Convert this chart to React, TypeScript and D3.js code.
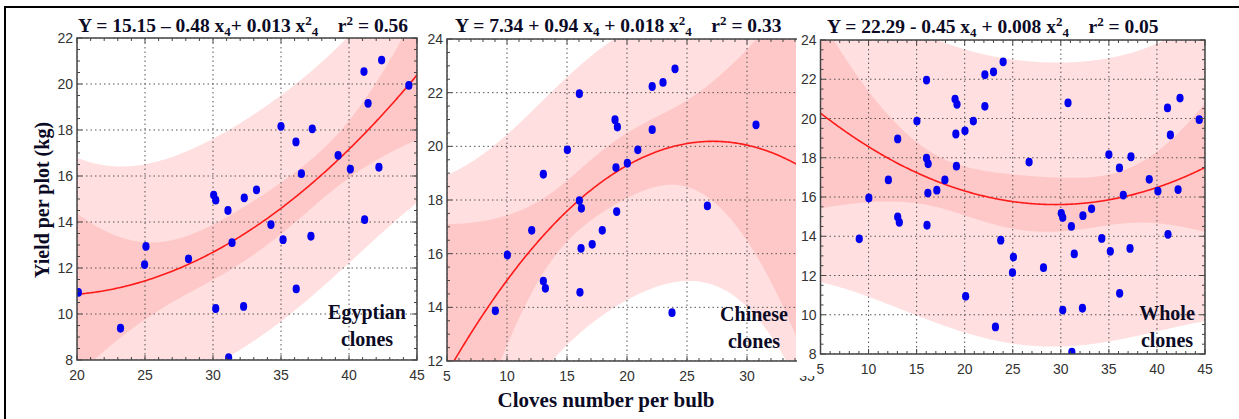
import { useEffect, useRef } from 'react';
import * as d3 from 'd3';

// Egyptian clones — cloves number per bulb vs yield per plot (kg)
const egyptX = [20.1, 23.2, 24.97, 25.07, 28.2, 30.05, 30.2, 30.2, 31.1, 31.15, 31.4, 32.25, 32.3, 33.2, 34.26,
  35.0, 35.15, 36.1, 36.12, 36.5, 37.2, 37.3, 39.2, 40.1, 41.1, 41.15, 41.4, 42.2, 42.4, 44.4];
const egyptY = [10.94, 9.38, 12.15, 12.94, 12.4, 15.17, 14.95, 10.24, 14.5, 8.1, 13.1, 10.33, 15.05, 15.4, 13.89,
  18.16, 13.23, 17.48, 11.09, 16.1, 13.38, 18.05, 16.9, 16.3, 20.54, 14.1, 19.16, 16.38, 21.04, 19.94];

// Chinese clones
const chinaX = [9.03, 10.03, 12.06, 13.03, 13.03, 13.2, 15.03, 16.03, 16.03, 16.2, 16.17, 16.08, 17.1, 17.94,
  19.0, 19.2, 19.08, 19.14, 20.03, 20.9, 22.1, 22.1, 23.0, 24.0, 23.75, 26.7, 30.75];
const chinaY = [13.87, 15.95, 16.87, 18.96, 14.98, 14.71, 19.87, 21.96, 17.98, 17.69, 16.2, 14.56, 16.35, 16.87,
  20.99, 20.72, 19.21, 17.57, 19.37, 19.87, 20.62, 22.23, 22.38, 22.89, 13.8, 17.78, 20.8];

// whole = both groups together
const wholeX = [...egyptX, ...chinaX];
const wholeY = [...egyptY, ...chinaY];

const xDomains = [[20, 45], [5, 35], [5, 45]];
const yDomains = [[8, 22], [12, 24], [8, 24]];
const xTicks = [[20, 25, 30, 35, 40, 45], [5, 10, 15, 20, 25, 30, 35], [5, 10, 15, 20, 25, 30, 35, 40, 45]];
const yTicks = [[8, 10, 12, 14, 16, 18, 20, 22], [12, 14, 16, 18, 20, 22, 24], [8, 10, 12, 14, 16, 18, 20, 22, 24]];

// [text, 0 normal | 1 sup | -1 sub]
const titles: [string, number][][] = [
  [['Y = 15.15 – 0.48 x', 0], ['4', -1], ['+ 0.013 x', 0], ['2', 1], ['4', -1], ['    r', 0], ['2', 1], [' = 0.56', 0]],
  [['Y = 7.34 + 0.94 x', 0], ['4', -1], [' + 0.018 x', 0], ['2', 1], ['4', -1], ['    r', 0], ['2', 1], [' = 0.33', 0]],
  [['Y = 22.29 - 0.45 x', 0], ['4', -1], [' + 0.008 x', 0], ['2', 1], ['4', -1], ['    r', 0], ['2', 1], [' = 0.05', 0]],
];
const notes = [['Egyptian', 'clones'], ['Chinese', 'clones'], ['Whole', 'clones']];

const SERIF = "'Liberation Serif', 'Times New Roman', serif";
const NARROW = "'Liberation Sans Narrow', 'Arial Narrow', 'Liberation Sans', sans-serif";
const INK = '#0b0b26';

// quadratic least squares + 95% confidence / prediction bands
function quadFit(xs: number[], ys: number[]) {
  const n = xs.length;
  const S = [[0, 0, 0], [0, 0, 0], [0, 0, 0]];
  const b = [0, 0, 0];
  xs.forEach((x, i) => {
    const v = [1, x, x * x];
    for (let r = 0; r < 3; r++) {
      b[r] += v[r] * ys[i];
      for (let c = 0; c < 3; c++) S[r][c] += v[r] * v[c];
    }
  });
  const [[a, bb, c], [d, e, f], [g, h, i]] = S;
  const A = e * i - f * h, B = -(d * i - f * g), C = d * h - e * g;
  const det = a * A + bb * B + c * C;
  const inv = [
    [A, -(bb * i - c * h), bb * f - c * e],
    [B, a * i - c * g, -(a * f - c * d)],
    [C, -(a * h - bb * g), a * e - bb * d],
  ].map(r => r.map(v => v / det));
  const beta = inv.map(r => r[0] * b[0] + r[1] * b[1] + r[2] * b[2]);
  const pred = (x: number) => beta[0] + beta[1] * x + beta[2] * x * x;
  const sse = d3.sum(xs, (x, k) => (ys[k] - pred(x)) ** 2);
  const df = n - 3;
  const s = Math.sqrt(sse / df);
  const z = 1.96;
  const t = z + (z ** 3 + z) / (4 * df) + (5 * z ** 5 + 16 * z ** 3 + 3 * z) / (96 * df * df);
  const lev = (x: number) => {
    const v = [1, x, x * x];
    let q = 0;
    for (let r = 0; r < 3; r++) for (let cc = 0; cc < 3; cc++) q += v[r] * inv[r][cc] * v[cc];
    return q;
  };
  return {
    pred,
    conf: (x: number) => t * s * Math.sqrt(lev(x)),
    band: (x: number) => t * s * Math.sqrt(1 + lev(x)),
  };
}

export default function App() {
  const svgRef = useRef<SVGSVGElement>(null);

  useEffect(() => {
    const svg = d3.select(svgRef.current);
    svg.selectAll('*').remove();

    // outer frame
    svg.append('path').attr('d', 'M5,419V7H1239').attr('fill', 'none')
      .attr('stroke', '#000').attr('stroke-width', 2);

    const boxes = [
      { left: 77, right: 417, top: 38, bottom: 360, clip: 417, titleX: 78, titleY: 32, noteX: 367, noteY: 319 },
      { left: 447, right: 807, top: 39, bottom: 361, clip: 796, titleX: 455, titleY: 32, noteX: 754, noteY: 321 },
      { left: 820.5, right: 1205, top: 40, bottom: 354, clip: 1205, titleX: 827, titleY: 33, noteX: 1167, noteY: 320 },
    ];
    const data = [[egyptX, egyptY], [chinaX, chinaY], [wholeX, wholeY]];

    boxes.forEach((bx, p) => {
      const [xs, ys] = data[p];
      const x = d3.scaleLinear().domain(xDomains[p]).range([bx.left, bx.right]);
      const y = d3.scaleLinear().domain(yDomains[p]).range([bx.bottom, bx.top]);
      const g = svg.append('g');

      if (p === 2) {
        // third panel sits over the right edge of the second one
        g.append('rect').attr('x', 797).attr('y', 10).attr('width', 440).attr('height', 366).attr('fill', '#fff');
      }

      const clipId = `clip-${p}`;
      svg.append('defs').append('clipPath').attr('id', clipId)
        .append('rect').attr('x', bx.left).attr('y', bx.top)
        .attr('width', bx.clip - bx.left).attr('height', bx.bottom - bx.top);

      const plot = g.append('g').attr('clip-path', `url(#${clipId})`);
      plot.append('rect').attr('x', bx.left).attr('y', bx.top)
        .attr('width', bx.clip - bx.left).attr('height', bx.bottom - bx.top).attr('fill', '#fff');

      const fit = quadFit(xs, ys);
      const grid = d3.range(xDomains[p][0], xDomains[p][1] + 0.001, 0.1);

      const area = (w: (v: number) => number) => d3.area<number>()
        .x(v => x(v)).y0(v => y(fit.pred(v) - w(v))).y1(v => y(fit.pred(v) + w(v)));

      plot.append('path').attr('d', area(fit.band)(grid)).attr('fill', '#ffdfdf');
      plot.append('path').attr('d', area(fit.conf)(grid)).attr('fill', '#ffc8c8');

      // dotted grid
      plot.selectAll('.gx').data(xTicks[p]).join('line')
        .attr('x1', v => x(v)).attr('x2', v => x(v)).attr('y1', bx.top).attr('y2', bx.bottom)
        .attr('stroke', '#555').attr('stroke-width', 1).attr('stroke-dasharray', '1.5,3');
      plot.selectAll('.gy').data(yTicks[p]).join('line')
        .attr('y1', v => y(v)).attr('y2', v => y(v)).attr('x1', bx.left).attr('x2', bx.right)
        .attr('stroke', '#555').attr('stroke-width', 1).attr('stroke-dasharray', '1.5,3');

      plot.append('path')
        .attr('d', d3.line<number>().x(v => x(v)).y(v => y(fit.pred(v)))(grid))
        .attr('fill', 'none').attr('stroke', '#ff1a1a').attr('stroke-width', 1.6);

      plot.selectAll('.pt').data(xs).join('ellipse')
        .attr('cx', (v) => x(v)).attr('cy', (_, k) => y(ys[k]))
        .attr('rx', 3.6).attr('ry', 4.4).attr('fill', '#0000ee');

      // frame + inward ticks on all sides
      const frame = g.append('g').attr('stroke', '#444').attr('fill', 'none');
      frame.append('path')
        .attr('d', `M${bx.left},${bx.top}H${bx.right}V${bx.bottom}H${bx.left}Z`)
        .attr('stroke-width', 1.5);
      const xMinor = d3.range(xDomains[p][0], xDomains[p][1] + 0.001, 1);
      const yMinor = d3.range(yDomains[p][0], yDomains[p][1] + 0.001, 0.5);
      const tickPath = [
        ...xMinor.map(v => {
          const len = xTicks[p].includes(v) ? 5 : 3;
          return `M${x(v)},${bx.bottom}v${-len}M${x(v)},${bx.top}v${len}`;
        }),
        ...yMinor.map(v => {
          const len = yTicks[p].includes(v) ? 5 : 3;
          return `M${bx.left},${y(v)}h${len}M${bx.right},${y(v)}h${-len}`;
        }),
      ].join('');
      frame.append('path').attr('d', tickPath).attr('stroke-width', 1);

      // tick labels
      g.selectAll('.xl').data(xTicks[p]).join('text')
        .attr('x', v => x(v)).attr('y', bx.bottom + 20).attr('text-anchor', 'middle')
        .attr('font-family', NARROW).attr('font-size', 14).attr('fill', '#333')
        .text(v => v);
      g.selectAll('.yl').data(yTicks[p]).join('text')
        .attr('x', bx.left - 4).attr('y', v => y(v) + 5).attr('text-anchor', 'end')
        .attr('font-family', NARROW).attr('font-size', 14).attr('fill', '#333')
        .text(v => v);

      // title with sub/superscripts
      const title = g.append('text').attr('x', bx.titleX).attr('y', bx.titleY)
        .attr('font-family', SERIF).attr('font-weight', 'bold').attr('font-size', 19.5)
        .attr('fill', INK).style('white-space', 'pre');
      let shift = 0;
      titles[p].forEach(([txt, kind]) => {
        const target = kind === 1 ? -7 : kind === -1 ? 4 : 0;
        title.append('tspan').attr('dy', target - shift)
          .attr('font-size', kind === 0 ? 19.5 : 13).text(txt);
        shift = target;
      });

      // group label
      notes[p].forEach((line, k) => {
        g.append('text').attr('x', bx.noteX).attr('y', bx.noteY + k * 26.5)
          .attr('text-anchor', 'middle').attr('font-family', SERIF).attr('font-weight', 'bold')
          .attr('font-size', 20).attr('fill', INK).text(line);
      });
    });

    svg.append('text')
      .attr('transform', 'translate(49,200) rotate(-90)').attr('text-anchor', 'middle')
      .attr('font-family', SERIF).attr('font-weight', 'bold').attr('font-size', 20)
      .attr('fill', INK).text('Yield per plot (kg)');

    svg.append('text')
      .attr('x', 606).attr('y', 407).attr('text-anchor', 'middle')
      .attr('font-family', SERIF).attr('font-weight', 'bold').attr('font-size', 21)
      .attr('fill', INK).text('Cloves number per bulb');
  }, []);

  return (
    <svg ref={svgRef} width={1239} height={419}
      style={{ position: 'absolute', left: 0, top: 0, background: '#fff' }} />
  );
}
